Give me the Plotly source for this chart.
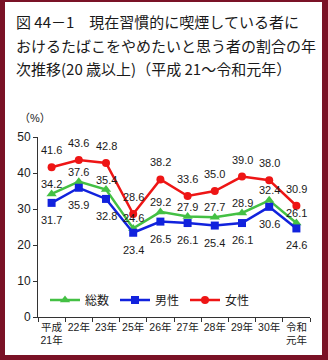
import plotly.graph_objects as go

categories = ["平成<br>21年", "22年", "23年", "25年", "26年", "27年", "28年", "29年", "30年", "令和<br>元年"]
total = [34.2, 37.6, 35.4, 24.6, 29.2, 27.9, 27.7, 28.9, 32.4, 26.1]
male = [31.7, 35.9, 32.8, 23.4, 26.5, 26.1, 25.4, 26.1, 30.6, 24.6]
female = [41.6, 43.6, 42.8, 28.6, 38.2, 33.6, 35.0, 39.0, 38.0, 30.9]
series_names = ["総数", "男性", "女性"]
title_lines = ["図 44－1　現在習慣的に喫煙している者に",
               "おけるたばこをやめたいと思う者の割合の年",
               "次推移(20 歳以上)（平成 21～令和元年）"]
y_ticks = [0, 10, 20, 30, 40, 50]

W, H = 328, 360
L, R, T, B = 38, 18, 137, 43
PH = H - T - B
PW = W - L - R

FONT = "Liberation Sans, Noto Sans CJK JP, sans-serif"
TXT = "#1a1a1a"

def py(pix):
    return (H - B - pix) / PH

def px(pix):
    return (pix - L) / PW

fig = go.Figure()
specs = [
    (total, series_names[0], "#44c044", "triangle-up", 9, 10),
    (male, series_names[1], "#1122dd", "square", 8, -17),
    (female, series_names[2], "#ee1515", "circle", 8, 17),
]
annotations = []
for vals, name, col, sym, ms, shift in specs:
    fig.add_trace(go.Scatter(
        x=categories, y=vals, name=name, mode="lines+markers",
        line=dict(color=col, width=2.5),
        marker=dict(color=col, symbol=sym, size=ms),
        cliponaxis=False,
    ))
    for c, v in zip(categories, vals):
        annotations.append(dict(
            x=c, y=v, xref="x", yref="y", text=f"{v:.1f}", showarrow=False,
            xanchor="center", yanchor="middle", yshift=shift,
            font=dict(family=FONT, size=11, color=TXT)))

for i, line in enumerate(title_lines):
    annotations.append(dict(
        text=line, x=px(14), y=py([21, 45, 68][i]), xref="paper", yref="paper",
        xanchor="left", yanchor="middle", showarrow=False,
        font=dict(family="Noto Sans CJK JP, sans-serif", size=15, color=TXT)))
annotations.append(dict(
    text="（%）", x=px(35), y=py(118), xref="paper", yref="paper",
    xanchor="center", yanchor="middle", showarrow=False,
    font=dict(family=FONT, size=11, color=TXT)))

fig.update_layout(
    width=W, height=H,
    margin=dict(l=L, r=R, t=T, b=B),
    paper_bgcolor="#7a1226", plot_bgcolor="white",
    showlegend=True,
    legend=dict(orientation="h", x=px(45), y=py(300), xanchor="left", yanchor="middle",
                font=dict(family=FONT, size=12, color=TXT), bgcolor="rgba(0,0,0,0)",
                itemwidth=30, tracegroupgap=0, entrywidth=25, entrywidthmode="pixels"),
    annotations=annotations,
    shapes=[dict(type="rect", xref="paper", yref="paper", layer="below",
                 x0=px(5), x1=px(W - 6), y0=py(H - 5), y1=py(2),
                 fillcolor="white", line=dict(width=0))],
    xaxis=dict(type="category", range=[-0.5, 9.5], showline=True, linecolor="#333", linewidth=1,
               ticks="outside", ticklen=4, tickcolor="#333", tickson="boundaries",
               showgrid=False, zeroline=False, tickangle=0,
               tickfont=dict(family=FONT, size=10.5, color=TXT)),
    yaxis=dict(range=[0, 50], tickvals=y_ticks, showline=True, linecolor="#333", linewidth=1,
               ticks="outside", ticklen=4, tickcolor="#333", showgrid=False, zeroline=False,
               tickfont=dict(family=FONT, size=12, color=TXT)),
)

fig.write_html("out.html")
